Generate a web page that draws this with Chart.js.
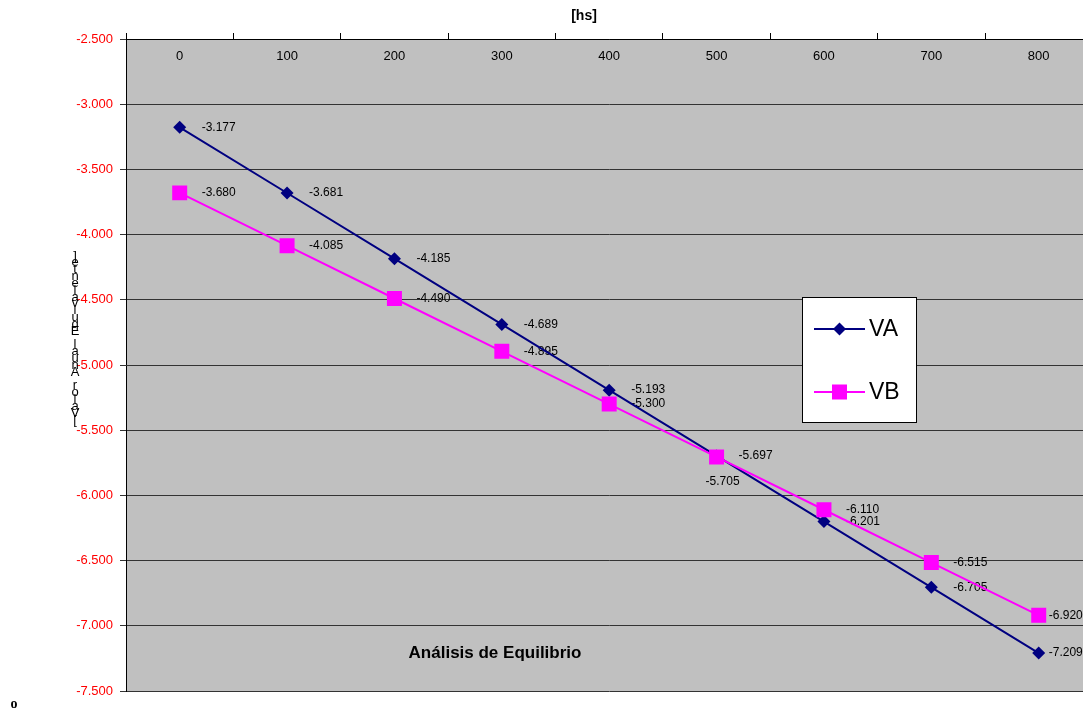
<!DOCTYPE html>
<html>
<head>
<meta charset="utf-8">
<script src="https://cdn.jsdelivr.net/npm/chart.js@4.4.1/dist/chart.umd.min.js"></script>
<style>
  html, body { margin: 0; padding: 0; background: #fff; overflow: hidden; }
  #wrap { position: absolute; left: 0; top: 0; width: 1103px; height: 711px; }
</style>
</head>
<body>
<div id="wrap"><canvas id="c" width="1103" height="711"></canvas></div>
<script>
// ---- data ----
const hours = ['0', '100', '200', '300', '400', '500', '600', '700', '800'];
const seriesVA = [-3.177, -3.681, -4.185, -4.689, -5.193, -5.697, -6.201, -6.705, -7.209];
const seriesVB = [-3.680, -4.085, -4.490, -4.895, -5.300, -5.705, -6.110, -6.515, -6.920];
const seriesNames = ['VA', 'VB'];
const yMin = -7.5, yMax = -2.5, yStep = 0.5;
const xTitle = '[hs]';
const yTitle = '[Valor Anual Equivalente]';
const innerNote = 'Análisis de Equilibrio';

const FONT = "'Liberation Sans', Arial, sans-serif";
const NAVY = '#000080', MAGENTA = '#FF00FF';

const bgPlugin = {
  id: 'bg',
  beforeDraw(chart) {
    const a = chart.chartArea, ctx = chart.ctx;
    ctx.save();
    ctx.fillStyle = '#C0C0C0';
    ctx.fillRect(a.left, a.top, a.right - a.left, a.bottom - a.top);
    ctx.restore();
  }
};

const labelPlugin = {
  id: 'labels',
  beforeDatasetsDraw(chart) {
    const ctx = chart.ctx;
    ctx.save();
    ctx.font = '12px ' + FONT;
    ctx.fillStyle = '#000';
    chart.data.datasets.forEach((ds, di) => {
      const meta = chart.getDatasetMeta(di);
      meta.data.forEach((pt, i) => {
        let dx = 22, dy = 0, align = 'left';
        if (i === ds.data.length - 1) dx = 10;
        if (di === 1 && i === 5) { dx = 6; dy = 25; align = 'center'; }
        ctx.textAlign = align;
        ctx.textBaseline = 'middle';
        ctx.fillText(ds.data[i].toFixed(3), pt.x + dx, pt.y + dy);
      });
    });
    // x tick labels inside plot
    const xs = chart.scales.x;
    ctx.font = '13px ' + FONT;
    ctx.textAlign = 'center';
    ctx.textBaseline = 'middle';
    hours.forEach((h, i) => {
      ctx.fillText(h, xs.getPixelForTick(i), chart.chartArea.top + 17);
    });
    ctx.restore();
  }
};

const decoPlugin = {
  id: 'deco',
  afterDraw(chart) {
    const ctx = chart.ctx;
    ctx.save();
    // top title
    ctx.fillStyle = '#000';
    ctx.font = 'bold 14px ' + FONT;
    ctx.textAlign = 'center';
    ctx.textBaseline = 'middle';
    ctx.fillText(xTitle, 584, 16);
    // inner note
    ctx.font = 'bold 17px ' + FONT;
    ctx.fillText(innerNote, 495, 653);
    // stacked y title (reversed)
    ctx.font = '13px ' + FONT;
    const chars = yTitle.split('').reverse();
    const y0 = 256, y1 = 420;
    chars.forEach((ch, i) => {
      ctx.fillText(ch, 75, y0 + (y1 - y0) * i / (chars.length - 1));
    });
    // bottom-left mark
    ctx.font = 'bold 14px "Liberation Serif", serif';
    ctx.fillText('o', 14, 704);
    // legend
    const lx = 802, ly = 297, lw = 115, lh = 126;
    ctx.fillStyle = '#fff';
    ctx.fillRect(lx, ly, lw, lh);
    ctx.strokeStyle = '#000';
    ctx.lineWidth = 1;
    ctx.strokeRect(lx + 0.5, ly + 0.5, lw - 1, lh - 1);
    const rows = [
      { y: 329, color: NAVY, style: 'diamond', name: seriesNames[0] },
      { y: 392, color: MAGENTA, style: 'square', name: seriesNames[1] }
    ];
    rows.forEach(r => {
      ctx.strokeStyle = r.color;
      ctx.lineWidth = 2;
      ctx.beginPath();
      ctx.moveTo(814, r.y); ctx.lineTo(865, r.y);
      ctx.stroke();
      ctx.fillStyle = r.color;
      if (r.style === 'diamond') {
        ctx.beginPath();
        ctx.moveTo(839.5, r.y - 6.5); ctx.lineTo(846, r.y);
        ctx.lineTo(839.5, r.y + 6.5); ctx.lineTo(833, r.y);
        ctx.closePath(); ctx.fill();
      } else {
        ctx.fillRect(832, r.y - 7.5, 15, 15);
      }
      ctx.fillStyle = '#000';
      ctx.font = '23px ' + FONT;
      ctx.textAlign = 'left';
      ctx.textBaseline = 'middle';
      ctx.fillText(r.name, 869, r.y + 1);
    });
    ctx.restore();
  }
};

new Chart(document.getElementById('c'), {
  type: 'line',
  data: {
    labels: hours,
    datasets: [
      { label: seriesNames[0], data: seriesVA, borderColor: NAVY, backgroundColor: NAVY,
        borderWidth: 2, pointStyle: 'rectRot', pointRadius: 6.5, pointBorderWidth: 0,
        pointBackgroundColor: NAVY, tension: 0, order: 1 },
      { label: seriesNames[1], data: seriesVB, borderColor: MAGENTA, backgroundColor: MAGENTA,
        borderWidth: 2, pointStyle: 'rect', pointRadius: 10.6, pointBorderWidth: 0,
        pointBackgroundColor: MAGENTA, tension: 0, order: 0 }
    ]
  },
  options: {
    responsive: false,
    animation: false,
    devicePixelRatio: 1,
    layout: { padding: { top: 0, right: 1, bottom: 20, left: 0 } },
    plugins: { legend: { display: false }, tooltip: { enabled: false }, title: { display: false } },
    scales: {
      x: {
        type: 'category',
        position: 'top',
        offset: true,
        grid: { offset: true, drawOnChartArea: false, drawTicks: true, tickLength: 6, color: '#000' },
        border: { display: true, color: '#000', width: 1 },
        ticks: { display: false },
        afterFit: s => { s.height = 39; }
      },
      y: {
        min: yMin, max: yMax,
        ticks: {
          stepSize: yStep, color: '#FF0000', padding: 7,
          font: { size: 13, family: FONT },
          callback: v => Number(v).toFixed(3)
        },
        grid: { color: '#333', tickLength: 6, drawTicks: true },
        border: { display: true, color: '#000', width: 1 },
        afterFit: s => { s.width = 126; }
      }
    }
  },
  plugins: [bgPlugin, labelPlugin, decoPlugin]
});
</script>
</body>
</html>
